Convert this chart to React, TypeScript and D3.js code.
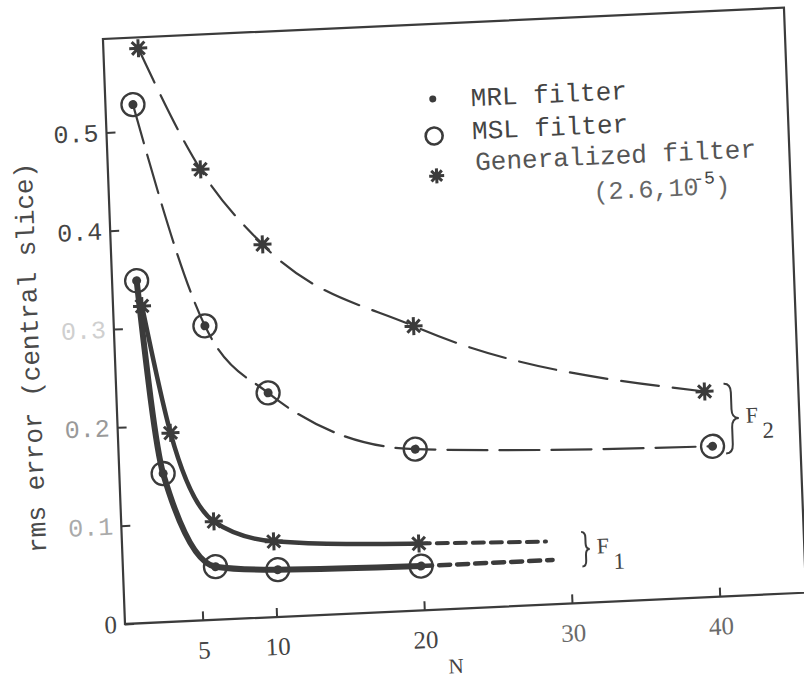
import React, { useEffect, useRef } from "react";
import * as d3 from "d3";

// axis ticks
const xTicks = [5, 10, 20, 30, 40];
const yTicks = [0, 0.1, 0.2, 0.3, 0.4, 0.5];

// F2 (dashed) - generalized filter
const f2GenN = [2.1, 6, 10, 20, 39.5];
const f2GenErr = [0.584, 0.458, 0.379, 0.289, 0.209];
// F2 (dashed) - MRL / MSL (coinciding)
const f2MslN = [1.6, 5.9, 10, 19.8, 39.9];
const f2MslErr = [0.527, 0.299, 0.228, 0.164, 0.153];

// F1 (solid) - generalized filter
const f1GenN = [1.7, 3.3, 6, 10, 19.8];
const f1GenErr = [0.322, 0.192, 0.1, 0.077, 0.068];
// F1 (solid) - MRL / MSL
const f1MslN = [1.4, 2.7, 6, 10.2, 19.9];
const f1MslErr = [0.348, 0.151, 0.054, 0.048, 0.045];

// short dashed continuations of the F1 curves
const f1GenTailN = [19.8, 28.4];
const f1GenTailErr = [0.068, 0.064];
const f1MslTailN = [19.9, 28.8];
const f1MslTailErr = [0.045, 0.045];

// braces: label, subscript, N at left edge, error span
const braceLabels = ["F", "F"];
const braceSubs = ["2", "1"];
const braceN = [40.8, 30.8];
const braceLow = [0.145, 0.037];
const braceHigh = [0.216, 0.072];

const legendLabels = ["MRL filter", "MSL filter", "Generalized filter"];

const zip = (a: number[], b: number[]) => a.map((v, i) => [v, b[i]] as [number, number]);

export default function App() {
  const ref = useRef<SVGSVGElement | null>(null);

  useEffect(() => {
    const svg = d3.select(ref.current);
    svg.selectAll("*").remove();

    const W = 681, H = 585;
    const ink = "#3b3b3b";
    const mono = "'Liberation Mono', 'DejaVu Sans Mono', monospace";
    const serif = "'Liberation Serif', 'DejaVu Serif', serif";

    const x = d3.scaleLinear().domain([0, 40]).range([3.85, 594.7]);
    const y = d3.scaleLinear().domain([0, 0.595]).range([0, -H]);

    // the scanned figure sits a little askew, draw flat and tilt the group
    const g = svg.append("g").attr("transform", "matrix(1,-0.046,0.0377,1,125,624)");

    g.append("rect")
      .attr("x", 0).attr("y", -H).attr("width", W).attr("height", H)
      .attr("fill", "none").attr("stroke", ink).attr("stroke-width", 2.2);

    g.append("g")
      .call(d3.axisBottom(x).tickValues(xTicks).tickSize(-9).tickFormat(d3.format("d")))
      .call(a => a.select(".domain").remove())
      .call(a => a.selectAll("line").attr("stroke", ink).attr("stroke-width", 2))
      .call(a => a.selectAll("text")
        .attr("y", 29).attr("dy", "0.36em")
        .attr("font-family", serif).attr("font-size", 25)
        .attr("fill", (d: any) => (d >= 30 ? "#6a6a6a" : "#444")));

    const fade: Record<string, string> = { "0.3": "#cfcfcf", "0.2": "#999", "0.1": "#aaa" };
    g.append("g")
      .call(d3.axisLeft(y).tickValues(yTicks).tickSize(-9).tickPadding(8)
        .tickFormat((d: any) => (d === 0 ? "0" : d3.format(".1f")(d))))
      .call(a => a.select(".domain").remove())
      .call(a => a.selectAll("line").attr("stroke", ink).attr("stroke-width", 2))
      .call(a => a.selectAll("text")
        .attr("font-family", (d: any) => (d === 0 ? serif : mono))
        .attr("font-size", 25)
        .attr("fill", (d: any) => fade[d3.format(".1f")(d)] || "#444"));

    g.append("text")
      .attr("transform", "translate(-85,-270) rotate(-90)")
      .attr("text-anchor", "middle").attr("dy", "0.35em")
      .attr("font-family", mono).attr("font-size", 26).attr("fill", "#4a4a4a")
      .text("rms error (central slice)");

    g.append("text")
      .attr("x", 329).attr("y", 57).attr("dy", "0.35em").attr("text-anchor", "middle")
      .attr("font-family", serif).attr("font-size", 21).attr("fill", "#444")
      .text("N");

    const line = d3.line<[number, number]>()
      .x(d => x(d[0])).y(d => y(d[1]))
      .curve(d3.curveMonotoneX);

    const curves = [
      { pts: zip(f2GenN, f2GenErr), dash: "38,14", w: 2.2 },
      { pts: zip(f2MslN, f2MslErr), dash: "40,12", w: 2.2 },
      { pts: zip(f1GenN, f1GenErr), dash: null, w: 4.5 },
      { pts: zip(f1MslN, f1MslErr), dash: null, w: 6 },
      { pts: zip(f1GenTailN, f1GenTailErr), dash: "11,7", w: 4 },
      { pts: zip(f1MslTailN, f1MslTailErr), dash: "11,7", w: 4.5 },
    ];

    g.selectAll("path.curve")
      .data(curves)
      .join("path")
      .attr("class", "curve")
      .attr("d", d => line(d.pts))
      .attr("fill", "none")
      .attr("stroke", ink)
      .attr("stroke-width", d => d.w)
      .attr("stroke-dasharray", d => d.dash)
      .attr("stroke-linecap", "round");

    const starPath = (cx: number, cy: number, r: number) => {
      const p = d3.path();
      for (let k = 0; k < 4; k++) {
        const a = (k * Math.PI) / 4;
        p.moveTo(cx - r * Math.cos(a), cy - r * Math.sin(a));
        p.lineTo(cx + r * Math.cos(a), cy + r * Math.sin(a));
      }
      return p.toString();
    };

    const drawStar = (cx: number, cy: number, r: number) => {
      g.append("path").attr("d", starPath(cx, cy, r))
        .attr("stroke", ink).attr("stroke-width", 3).attr("fill", "none");
      g.append("circle").attr("cx", cx).attr("cy", cy).attr("r", r * 0.42).attr("fill", ink);
    };

    const drawRing = (cx: number, cy: number) => {
      g.append("circle").attr("cx", cx).attr("cy", cy).attr("r", 11.5)
        .attr("fill", "none").attr("stroke", ink).attr("stroke-width", 2.3);
      g.append("circle").attr("cx", cx).attr("cy", cy).attr("r", 4.5).attr("fill", ink);
    };

    zip(f2GenN, f2GenErr).forEach(d => drawStar(x(d[0]), y(d[1]), 9));
    zip(f1GenN, f1GenErr).forEach(d => drawStar(x(d[0]), y(d[1]), 9));
    zip(f2MslN, f2MslErr).forEach(d => drawRing(x(d[0]), y(d[1])));
    zip(f1MslN, f1MslErr).forEach(d => drawRing(x(d[0]), y(d[1])));

    // curly braces grouping the curves
    const brace = (bx: number, y1: number, y2: number, w: number) => {
      const m = (y1 + y2) / 2, xm = bx + w / 2, k = Math.min(9, (y2 - y1) / 6);
      return `M${bx},${y1} Q${xm},${y1} ${xm},${y1 + k} L${xm},${m - k} Q${xm},${m} ${bx + w},${m} ` +
        `Q${xm},${m} ${xm},${m + k} L${xm},${y2 - k} Q${xm},${y2} ${bx},${y2}`;
    };

    braceLabels.forEach((lab, i) => {
      const bx = x(braceN[i]);
      const top = y(braceHigh[i]), bot = y(braceLow[i]);
      const w = i === 0 ? 14 : 8;
      g.append("path").attr("d", brace(bx, top, bot, w))
        .attr("fill", "none").attr("stroke", ink).attr("stroke-width", 2);
      const t = g.append("text")
        .attr("x", bx + w + 7).attr("y", (top + bot) / 2 + 5)
        .attr("font-family", serif).attr("font-size", 22).attr("fill", "#444");
      t.append("tspan").text(lab);
      t.append("tspan").attr("dx", 4).attr("dy", 16).attr("font-size", 23).text(braceSubs[i]);
    });

    // legend
    const symX = 327, textX = 365;
    const rowY = [-501, -468, -437];
    g.append("circle").attr("cx", symX).attr("cy", rowY[0] - 9).attr("r", 3.5).attr("fill", ink);
    g.append("circle").attr("cx", symX).attr("cy", rowY[1] - 5).attr("r", 8.5)
      .attr("fill", "none").attr("stroke", ink).attr("stroke-width", 2.6);
    drawStar(symX + 1, rowY[2] + 4, 7.5);

    legendLabels.forEach((lab, i) => {
      g.append("text")
        .attr("x", textX + (i === 2 ? 2 : 0)).attr("y", rowY[i])
        .attr("font-family", mono).attr("font-size", 26).attr("fill", i === 2 ? "#555" : "#444")
        .text(lab);
    });

    const param = g.append("text")
      .attr("x", 484).attr("y", -402)
      .attr("font-family", mono).attr("font-size", 25).attr("fill", "#666");
    param.append("tspan").text("(2.6,10");
    param.append("tspan").attr("dx", -5).attr("dy", -11).attr("font-size", 18).attr("fill", "#444").text("-5");
    param.append("tspan").attr("dy", 11).text(")");
  }, []);

  return (
    <svg
      ref={ref}
      width={804}
      height={681}
      style={{ position: "absolute", left: 0, top: 0, background: "#fff" }}
    />
  );
}
